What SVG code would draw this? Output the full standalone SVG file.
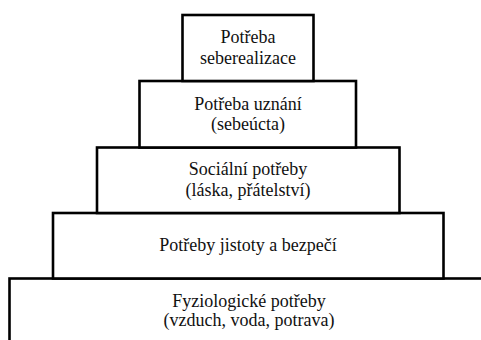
<svg xmlns="http://www.w3.org/2000/svg" width="481" height="340" viewBox="0 0 481 340">
<style>
.box{fill:#fff;stroke:#000;stroke-width:2.6}
.t{font-family:"Liberation Serif","Times New Roman",serif;font-size:18px;fill:#111;text-anchor:middle}
</style>
<rect width="481" height="340" fill="#fff"/>
<g id="level5">
<rect class="box" x="9.5" y="278.5" width="490" height="80"/>
<text class="t" x="249" y="306.5">Fyziologické potřeby</text>
<text class="t" x="249" y="326">(vzduch, voda, potrava)</text>
</g>
<g id="level4">
<rect class="box" x="53" y="213" width="390.5" height="65.5"/>
<text class="t" x="248" y="251">Potřeby jistoty a bezpečí</text>
</g>
<g id="level3">
<rect class="box" x="97" y="147.5" width="302.5" height="65.5"/>
<text class="t" x="248" y="175">Sociální potřeby</text>
<text class="t" x="248" y="196">(láska, přátelství)</text>
</g>
<g id="level2">
<rect class="box" x="139.5" y="81" width="216.5" height="66.5"/>
<text class="t" x="248" y="110">Potřeba uznání</text>
<text class="t" x="248" y="130">(sebeúcta)</text>
</g>
<g id="level1">
<rect class="box" x="182.5" y="15" width="131" height="66"/>
<text class="t" x="248" y="43">Potřeba</text>
<text class="t" x="248" y="64">seberealizace</text>
</g>
<g id="connectors"/>
</svg>
